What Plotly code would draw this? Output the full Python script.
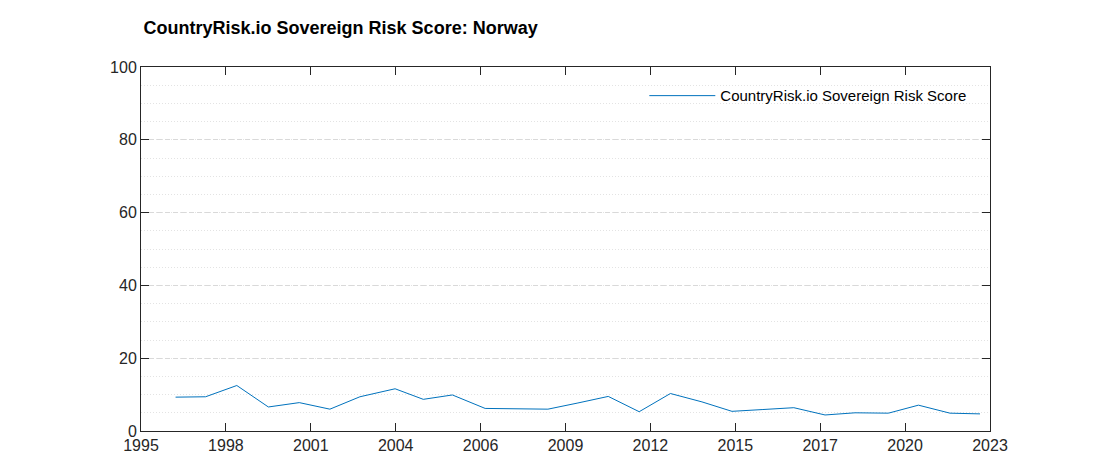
import plotly.graph_objects as go

years = [1996.14, 1997.13, 1998.16, 1999.20, 2000.22, 2001.23, 2002.22, 2003.38,
         2004.31, 2005.27, 2006.35, 2007.37, 2008.42, 2009.41, 2010.41, 2011.43,
         2012.46, 2013.50, 2014.49, 2015.51, 2016.53, 2017.56, 2018.55, 2019.65,
         2020.64, 2021.68, 2022.67]
scores = [9.3, 9.4, 12.5, 6.6, 7.8, 6.0, 9.4, 11.6,
          8.7, 9.9, 6.2, 6.1, 6.0, 7.7, 9.5, 5.3,
          10.3, 8.0, 5.4, 5.9, 6.4, 4.4, 5.0, 4.9,
          7.1, 4.9, 4.7]

x_tickvals = [1995.0, 1997.8, 2000.6, 2003.4, 2006.2, 2009.0, 2011.8, 2014.6, 2017.4, 2020.2, 2023.0]
x_ticktext = ["1995", "1998", "2001", "2004", "2006", "2009", "2012", "2015", "2017", "2020", "2023"]
y_tickvals = [0, 20, 40, 60, 80, 100]

title = "CountryRisk.io Sovereign Risk Score: Norway"
series_name = "CountryRisk.io Sovereign Risk Score"

font_family = "Arial, Liberation Sans, sans-serif"
axis_color = "#262626"

fig = go.Figure()
fig.add_trace(go.Scatter(
    x=years, y=scores, mode="lines", name=series_name,
    line=dict(color="#0072BD", width=1),
))

fig.update_layout(
    width=1094, height=469,
    margin=dict(l=133, r=112, t=59, b=46),
    paper_bgcolor="white", plot_bgcolor="white",
    font=dict(family=font_family, size=16, color=axis_color),
    title=dict(text="<b>" + title + "</b>", x=0.003, xref="paper", xanchor="left",
               y=1 - 20 / 469, yref="container", yanchor="middle",
               font=dict(family=font_family, size=18, color="black")),
    showlegend=True,
    legend=dict(x=0.978, xanchor="right", y=0.966, yanchor="top",
                bgcolor="rgba(255,255,255,0)", borderwidth=0,
                font=dict(family=font_family, size=15, color="black"),
                itemwidth=66),
)

fig.update_xaxes(
    range=[1995, 2023], tickmode="array", tickvals=x_tickvals, ticktext=x_ticktext,
    showgrid=False, zeroline=False,
    showline=True, linecolor=axis_color, linewidth=1, mirror="ticks",
    ticks="inside", ticklen=8, tickcolor=axis_color, tickwidth=1,
    tickfont=dict(size=16, color=axis_color),
)
fig.update_yaxes(
    range=[0, 100], tickmode="array", tickvals=y_tickvals,
    showgrid=True, gridcolor="#d9d9d9", griddash="5px,3px", gridwidth=1,
    zeroline=False,
    showline=True, linecolor=axis_color, linewidth=1, mirror="ticks",
    ticks="inside", ticklen=8, tickcolor=axis_color, tickwidth=1,
    tickfont=dict(size=16, color=axis_color),
    minor=dict(dtick=5, tick0=0, showgrid=True, gridcolor="#e3e3e3", griddash="1px,2px", gridwidth=1, ticks=""),
)

fig.write_html("out.html")
